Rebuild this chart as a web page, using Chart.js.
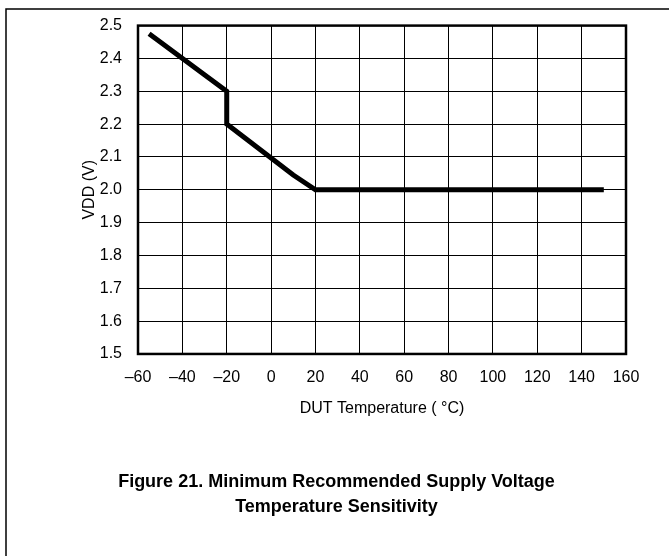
<!DOCTYPE html>
<html>
<head>
<meta charset="utf-8">
<script src="https://cdn.jsdelivr.net/npm/chart.js@4.4.1/dist/chart.umd.min.js"></script>
<style>
  html, body { margin: 0; padding: 0; background: #fff; }
  #wrap { position: relative; width: 669px; height: 556px; }
</style>
</head>
<body>
<div id="wrap"><canvas id="vddChart" width="669" height="556"></canvas></div>
<script>
// Minimum recommended VDD vs DUT temperature
const tempC = [-55, -20, -20, 10, 20, 150];
const vddV = [2.475, 2.3, 2.2, 2.045, 2.0, 2.0];

const xTicks = [-60, -40, -20, 0, 20, 40, 60, 80, 100, 120, 140, 160];
const yTicks = [1.5, 1.6, 1.7, 1.8, 1.9, 2.0, 2.1, 2.2, 2.3, 2.4, 2.5];

const xTitle = 'DUT Temperature ( \u00B0C)';
const yTitle = 'VDD (V)';
const caption = ['Figure 21. Minimum Recommended Supply Voltage', 'Temperature Sensitivity'];

const FONT = "'Liberation Sans', Arial, sans-serif";

// thick frame round the plot + the figure border lines
const framePlugin = {
    id: 'frame',
    beforeDraw(chart) {
        const ctx = chart.ctx;
        ctx.save();
        ctx.fillStyle = '#fff';
        ctx.fillRect(0, 0, chart.width, chart.height);
        ctx.strokeStyle = '#000';
        ctx.lineWidth = 1.5;
        ctx.beginPath();
        ctx.moveTo(6, chart.height);
        ctx.lineTo(6, 9);
        ctx.lineTo(chart.width, 9);
        ctx.stroke();
        ctx.restore();
    },
    afterDatasetsDraw(chart) {
        const { ctx, chartArea } = chart;
        ctx.save();
        ctx.strokeStyle = '#000';
        ctx.lineWidth = 2.5;
        ctx.strokeRect(chartArea.left, chartArea.top, chartArea.right - chartArea.left, chartArea.bottom - chartArea.top);
        ctx.restore();
    }
};

new Chart(document.getElementById('vddChart'), {
    type: 'line',
    data: {
        datasets: [{
            data: tempC.map((t, i) => ({ x: t, y: vddV[i] })),
            borderColor: '#000',
            borderWidth: 5,
            pointRadius: 0,
            tension: 0,
            fill: false
        }]
    },
    options: {
        responsive: false,
        animation: false,
        layout: { padding: { left: 47, right: 43, top: 23, bottom: 36.5 } },
        plugins: {
            legend: { display: false },
            tooltip: { enabled: false },
            title: {
                display: true,
                position: 'bottom',
                text: caption,
                color: '#000',
                font: { family: FONT, size: 18, weight: 'bold', lineHeight: 1.39 },
                padding: { top: 51.5, bottom: 0 }
            }
        },
        scales: {
            x: {
                type: 'linear',
                min: -60,
                max: 160,
                afterBuildTicks: (s) => { s.ticks = xTicks.map(v => ({ value: v })); },
                afterFit: (s) => { s.height = 64; },
                ticks: {
                    color: '#000',
                    font: { family: FONT, size: 16, lineHeight: 1.125 },
                    padding: 15,
                    callback: (v) => (v < 0 ? '\u2013' + Math.abs(v) : String(v))
                },
                grid: { color: '#000', lineWidth: 1, drawTicks: false },
                border: { display: false },
                title: {
                    display: true,
                    text: xTitle,
                    color: '#000',
                    font: { family: FONT, size: 16, lineHeight: 1.125 },
                    padding: 0
                }
            },
            y: {
                type: 'linear',
                min: 1.5,
                max: 2.5,
                afterBuildTicks: (s) => { s.ticks = yTicks.map(v => ({ value: v })); },
                afterFit: (s) => { s.width = 91; },
                ticks: {
                    color: '#000',
                    font: { family: FONT, size: 16 },
                    padding: 16,
                    callback: (v) => v.toFixed(1)
                },
                grid: { color: '#000', lineWidth: 1, drawTicks: false },
                border: { display: false },
                title: {
                    display: true,
                    text: yTitle,
                    color: '#000',
                    font: { family: FONT, size: 16, lineHeight: 1.125 },
                    padding: { top: 34, bottom: 0 }
                }
            }
        }
    },
    plugins: [framePlugin]
});
</script>
</body>
</html>
